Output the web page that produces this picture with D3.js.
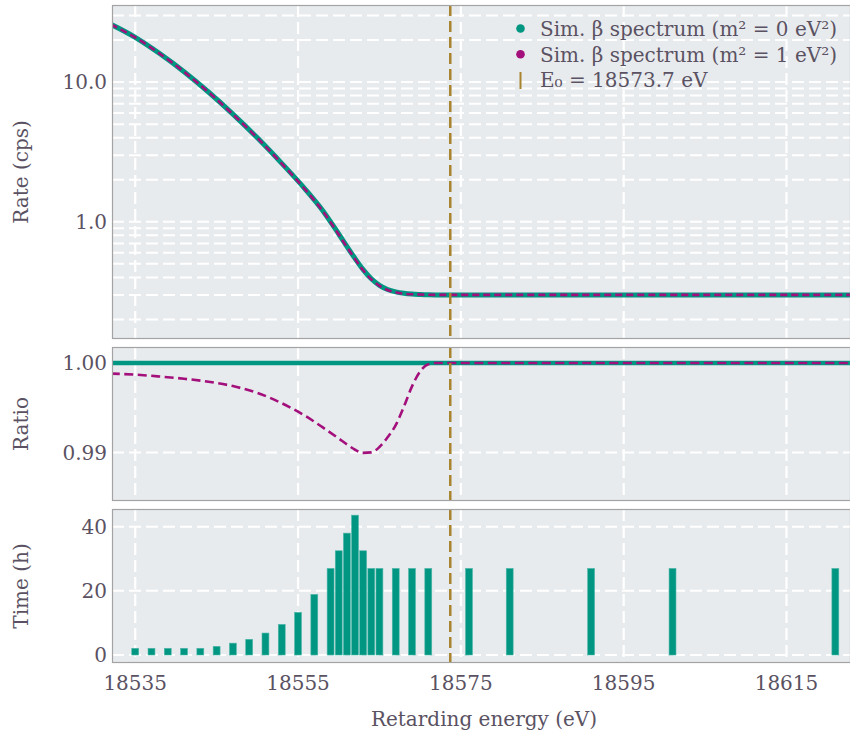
<!DOCTYPE html>
<html>
<head>
<meta charset="utf-8">
<script src="https://cdn.jsdelivr.net/npm/d3@7"></script>
<style>
  html, body { margin: 0; padding: 0; background: #ffffff; }
  svg { display: block; }
  text { font-family: "DejaVu Serif", serif; fill: #5a5262; }
</style>
</head>
<body>
<svg id="chart" width="850" height="738"></svg>
<script>
// ---- data -------------------------------------------------------------
// Retarding energies (eV) on which the simulated spectra are tabulated
const energies = [18532, 18535, 18538, 18541, 18544, 18547, 18550, 18553, 18556, 18558,
                  18560, 18561, 18562, 18563, 18564, 18565, 18566, 18567, 18568, 18569,
                  18570, 18571, 18572, 18574, 18580, 18600, 18623];
// Integral rate (cps), m^2 = 0 eV^2
const rateM0 = [25.9, 20.9, 16.0, 11.86, 8.49, 5.90, 3.99, 2.62, 1.68, 1.21,
                0.818, 0.667, 0.547, 0.455, 0.391, 0.351, 0.328, 0.3155, 0.308, 0.304,
                0.302, 0.3006, 0.300, 0.300, 0.300, 0.300, 0.300];
// Integral rate (cps), m^2 = 1 eV^2
const rateM1 = [25.87, 20.87, 15.98, 11.84, 8.47, 5.88, 3.98, 2.61, 1.67, 1.20,
                0.811, 0.661, 0.542, 0.450, 0.387, 0.348, 0.325, 0.313, 0.306, 0.303,
                0.302, 0.3006, 0.300, 0.300, 0.300, 0.300, 0.300];
// Ratio of the two spectra (m^2 = 1 over m^2 = 0)
const ratioM0 = energies.map(() => 1.0);
const ratioM1 = [0.99881, 0.99869, 0.99848, 0.99823, 0.99790, 0.99741, 0.99665, 0.99550, 0.99402, 0.99282,
                 0.99155, 0.99090, 0.99030, 0.98995, 0.99000, 0.99060, 0.99169, 0.99305, 0.99510, 0.99738,
                 0.99906, 0.99985, 1.0, 1.0, 1.0, 1.0, 1.0];
// Measurement time distribution
const scanEnergies = [18535, 18537, 18539, 18541, 18543, 18545, 18547, 18549, 18551, 18553,
                      18555, 18557, 18559, 18560, 18561, 18562, 18563, 18564, 18565, 18567,
                      18569, 18571, 18576, 18581, 18591, 18601, 18621];
const timeHours = [2.1, 2.1, 2.1, 2.1, 2.1, 2.7, 3.7, 4.9, 6.85, 9.55,
                   13.3, 18.9, 27.0, 32.5, 38.0, 43.6, 32.5, 27.0, 27.0, 27.0,
                   27.0, 27.0, 27.0, 27.0, 27.0, 27.0, 27.0];
const endpointE0 = 18573.7;
const xTicks = [18535, 18555, 18575, 18595, 18615];
const rateTicks = [1, 10];
const rateTickLabels = ["1.0", "10.0"];
const ratioTicks = [0.99, 1.00];
const ratioTickLabels = ["0.99", "1.00"];
const timeTicks = [0, 20, 40];
const legendLabels = ["Sim. \u03b2 spectrum (m\u00b2 = 0 eV\u00b2)",
                      "Sim. \u03b2 spectrum (m\u00b2 = 1 eV\u00b2)",
                      "E\u2080 = 18573.7 eV"];

// ---- styling ----------------------------------------------------------
const C_TEAL = "#009682", C_MAG = "#a3107c", C_GOLD = "#a9842f";
const PANEL_BG = "#e8ebee", BORDER = "#a3a3a3", GRID = "#ffffff";
const FONT = 20;

const svg = d3.select("#chart");
const left = 112, right = 850;
const panels = {
  rate:  { top: 5,   bottom: 339 },
  ratio: { top: 347, bottom: 501 },
  time:  { top: 509, bottom: 663 }
};

const x = d3.scaleLinear().domain([18532.15, 18622.8]).range([left, right]);
const yRate = d3.scaleLog().domain([0.145, 35.6]).range([panels.rate.bottom, panels.rate.top]);
const yRatio = d3.scaleLinear().domain([0.98457, 1.00178]).range([panels.ratio.bottom, panels.ratio.top]);
const yTime = d3.scaleLinear().domain([-2.49, 45.52]).range([panels.time.bottom, panels.time.top]);

const defs = svg.append("defs");

function panelFrame(key, yScale, hGridValues) {
  const p = panels[key];
  defs.append("clipPath").attr("id", "clip-" + key)
    .append("rect").attr("x", left).attr("y", p.top)
    .attr("width", right - left).attr("height", p.bottom - p.top);
  const g = svg.append("g");
  g.append("rect").attr("x", left).attr("y", p.top)
    .attr("width", right - left).attr("height", p.bottom - p.top)
    .attr("fill", PANEL_BG);
  const grid = g.append("g").attr("clip-path", `url(#clip-${key})`);
  grid.selectAll("line.h").data(hGridValues).join("line")
    .attr("x1", left).attr("x2", right)
    .attr("y1", d => yScale(d)).attr("y2", d => yScale(d))
    .attr("stroke", GRID).attr("stroke-width", 2).attr("stroke-dasharray", "12,5");
  grid.selectAll("line.v").data(xTicks).join("line")
    .attr("x1", d => x(d)).attr("x2", d => x(d))
    .attr("y1", p.top).attr("y2", p.bottom)
    .attr("stroke", GRID).attr("stroke-width", 2.2).attr("stroke-dasharray", "12,5");
  const content = g.append("g").attr("clip-path", `url(#clip-${key})`);
  return { g, content, p };
}

function panelBorder(f) {
  f.g.append("rect").attr("x", left + 0.5).attr("y", f.p.top + 0.5)
    .attr("width", right - left).attr("height", f.p.bottom - f.p.top - 1)
    .attr("fill", "none").attr("stroke", BORDER).attr("stroke-width", 1.2);
}

function yLabels(f, yScale, ticks, labels) {
  f.g.selectAll("text.ytick").data(ticks).join("text")
    .attr("x", left - 5).attr("y", d => yScale(d))
    .attr("dy", "0.36em").attr("text-anchor", "end")
    .attr("font-size", FONT).text((d, i) => labels[i]);
}

function yTitle(f, label) {
  const cy = (f.p.top + f.p.bottom) / 2;
  svg.append("text").attr("transform", `translate(28,${cy}) rotate(-90)`)
    .attr("text-anchor", "middle").attr("font-size", FONT).text(label);
}

function e0Line(f) {
  f.content.append("line")
    .attr("x1", x(endpointE0)).attr("x2", x(endpointE0))
    .attr("y1", f.p.top).attr("y2", f.p.bottom)
    .attr("stroke", C_GOLD).attr("stroke-width", 2.5).attr("stroke-dasharray", "11,5");
}

// ---- top panel: integral spectra -------------------------------------
const rateGrid = [];
[0.1, 1, 10].forEach(dec => { for (let k = 1; k <= 9; k++) rateGrid.push(k * dec); });
const fRate = panelFrame("rate", yRate, rateGrid.filter(v => v >= 0.145 && v <= 35.6));
const rateLine = series => d3.line().curve(d3.curveMonotoneX)
  .x((d, i) => x(energies[i])).y(d => yRate(d))(series);
fRate.content.append("path").attr("d", rateLine(rateM0))
  .attr("fill", "none").attr("stroke", C_TEAL).attr("stroke-width", 5);
fRate.content.append("path").attr("d", rateLine(rateM1))
  .attr("fill", "none").attr("stroke", C_MAG).attr("stroke-width", 2.6)
  .attr("stroke-dasharray", "7,4");
e0Line(fRate);
panelBorder(fRate);
yLabels(fRate, yRate, rateTicks, rateTickLabels);
yTitle(fRate, "Rate (cps)");

// legend
const legend = svg.append("g");
const legendRows = [28.5, 54.3, 80];
legendLabels.forEach((lab, i) => {
  const cy = legendRows[i];
  if (i < 2) {
    legend.append("circle").attr("cx", 520.5).attr("cy", cy).attr("r", 4.3)
      .attr("fill", i === 0 ? C_TEAL : C_MAG);
  } else {
    legend.append("line").attr("x1", 520.5).attr("x2", 520.5)
      .attr("y1", cy - 8).attr("y2", cy + 9)
      .attr("stroke", C_GOLD).attr("stroke-width", 2);
  }
  legend.append("text").attr("x", 540).attr("y", cy).attr("dy", "0.36em")
    .attr("font-size", FONT).text(lab);
});

// ---- middle panel: ratio ----------------------------------------------
const fRatio = panelFrame("ratio", yRatio, ratioTicks);
const ratioLine = series => d3.line().curve(d3.curveMonotoneX)
  .x((d, i) => x(energies[i])).y(d => yRatio(d))(series);
fRatio.content.append("path").attr("d", ratioLine(ratioM0))
  .attr("fill", "none").attr("stroke", C_TEAL).attr("stroke-width", 4.4);
fRatio.content.append("path").attr("d", ratioLine(ratioM1))
  .attr("fill", "none").attr("stroke", C_MAG).attr("stroke-width", 2.6)
  .attr("stroke-dasharray", "9,4.5");
e0Line(fRatio);
panelBorder(fRatio);
yLabels(fRatio, yRatio, ratioTicks, ratioTickLabels);
yTitle(fRatio, "Ratio");

// ---- bottom panel: measurement time ----------------------------------
const fTime = panelFrame("time", yTime, timeTicks);
const barW = x(18535.85) - x(18535);
fTime.content.selectAll("rect.bar").data(timeHours).join("rect")
  .attr("x", (d, i) => x(scanEnergies[i]) - barW / 2)
  .attr("width", barW)
  .attr("y", d => yTime(d))
  .attr("height", d => yTime(0) - yTime(d))
  .attr("fill", C_TEAL).attr("stroke", "#4fb8aa").attr("stroke-width", 0.6);
e0Line(fTime);
panelBorder(fTime);
yLabels(fTime, yTime, timeTicks, timeTicks.map(String));
yTitle(fTime, "Time (h)");

// x axis tick labels and title
svg.selectAll("text.xtick").data(xTicks).join("text")
  .attr("x", d => x(d)).attr("y", 690)
  .attr("text-anchor", "middle").attr("font-size", FONT).text(d => d);
svg.append("text").attr("x", 484).attr("y", 726)
  .attr("text-anchor", "middle").attr("font-size", FONT).text("Retarding energy (eV)");
</script>
</body>
</html>
